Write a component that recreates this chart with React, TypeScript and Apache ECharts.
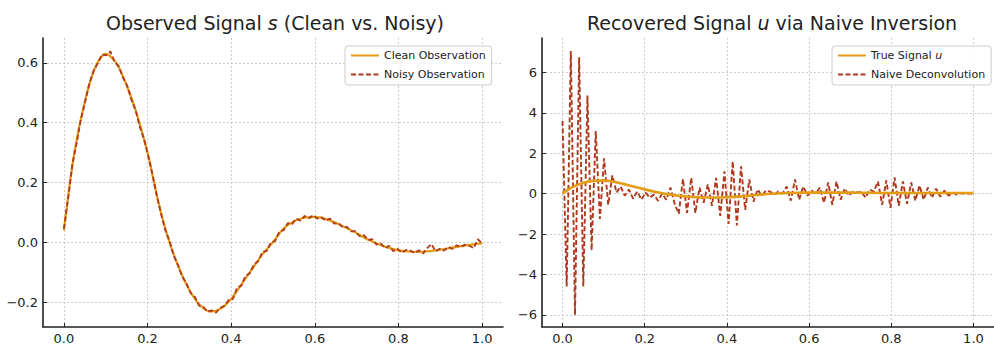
import React, { useEffect, useRef } from 'react';
import * as echarts from 'echarts';

// ---- Data ----
const xTicks = [0, 0.2, 0.4, 0.6, 0.8, 1.0];
const leftYTicks = [-0.2, 0, 0.2, 0.4, 0.6];
const rightYTicks = [-6, -4, -2, 0, 2, 4, 6];

// Clean observation s(t), sampled every 0.025
const cleanT = [
  0, 0.025, 0.05, 0.075, 0.1, 0.125, 0.15, 0.175, 0.2, 0.225, 0.25, 0.275, 0.3, 0.325, 0.35, 0.375, 0.4,
  0.425, 0.45, 0.475, 0.5, 0.525, 0.55, 0.575, 0.6, 0.625, 0.65, 0.675, 0.7, 0.725, 0.75, 0.775, 0.8,
  0.825, 0.85, 0.875, 0.9, 0.925, 0.95, 0.975, 1.0,
];
const cleanS = [
  0.04, 0.3, 0.47, 0.585, 0.63, 0.6, 0.525, 0.425, 0.3, 0.14, 0.01, -0.085, -0.16, -0.21, -0.232, -0.222,
  -0.19, -0.14, -0.09, -0.04, 0.0, 0.045, 0.07, 0.082, 0.085, 0.078, 0.065, 0.048, 0.03, 0.01, -0.005,
  -0.018, -0.027, -0.031, -0.032, -0.03, -0.025, -0.019, -0.013, -0.008, -0.004,
];

// Noisy observation, 100 samples on [0, 1]
const noisyS = [
  0.045, 0.148, 0.26, 0.33, 0.41, 0.468, 0.53, 0.572, 0.598, 0.628,
  0.625, 0.638, 0.603, 0.588, 0.55, 0.523, 0.476, 0.44, 0.385, 0.343,
  0.287, 0.224, 0.155, 0.094, 0.04, 0.005, -0.045, -0.077, -0.115, -0.137,
  -0.17, -0.183, -0.212, -0.216, -0.232, -0.228, -0.236, -0.219, -0.213, -0.193,
  -0.19, -0.152, -0.145, -0.112, -0.104, -0.074, -0.064, -0.032, -0.03, -0.001,
  0.004, 0.035, 0.04, 0.064, 0.06, 0.079, 0.072, 0.088, 0.08, 0.09,
  0.079, 0.084, 0.072, 0.079, 0.062, 0.064, 0.05, 0.051, 0.036, 0.037,
  0.02, 0.024, 0.008, 0.01, -0.008, -0.004, -0.02, -0.012, -0.03, -0.022,
  -0.035, -0.026, -0.028, -0.036, -0.027, -0.038, -0.02, -0.006, -0.03, -0.022,
  -0.028, -0.016, -0.022, -0.01, -0.016, -0.008, -0.012, -0.02, 0.01, -0.004,
];

// True signal u(t)
const trueT = [
  0, 0.025, 0.05, 0.075, 0.1, 0.125, 0.15, 0.175, 0.2, 0.225, 0.25, 0.3, 0.35, 0.4, 0.45, 0.5, 0.55,
  0.6, 0.65, 0.7, 0.75, 0.8, 0.85, 0.9, 0.95, 1.0,
];
const trueU = [
  0.0, 0.33, 0.53, 0.63, 0.65, 0.59, 0.47, 0.34, 0.21, 0.09, -0.01, -0.14, -0.19, -0.18, -0.11, -0.02,
  0.03, 0.05, 0.05, 0.05, 0.04, 0.03, 0.03, 0.03, 0.03, 0.03,
];

// Naive deconvolution, 100 samples on [0, 1]
const naiveU = [
  3.6, -4.6, 7.05, -6.0, 6.75, -4.6, 4.85, -2.8, 3.1, -1.25,
  1.75, -0.55, 0.9, 0.05, 0.35, -0.1, 0.2, -0.25, 0.1, -0.3,
  0.05, -0.2, -0.05, -0.35, 0.0, -0.3, 0.3, -0.5, -1.0, 0.73,
  -0.95, 0.78, -0.95, 0.3, -0.45, 0.45, -0.6, 0.78, -1.1, 1.1,
  -1.5, 1.6, -1.58, 1.35, -0.8, 0.7, -0.4, 0.2, -0.1, 0.15,
  0.1, -0.05, 0.1, 0.0, 0.35, -0.35, 0.7, -0.3, 0.35, -0.1,
  0.15, 0.0, 0.3, -0.45, 0.55, -0.55, 0.6, -0.3, 0.25, -0.1,
  0.1, 0.05, 0.1, -0.2, 0.2, 0.1, 0.6, -0.55, 0.65, -0.7,
  0.8, -0.6, 0.6, -0.5, 0.55, -0.35, 0.4, -0.3, 0.3, -0.2,
  0.25, -0.15, 0.15, -0.1, 0.05, -0.05, 0.02, 0.0, 0.0, 0.0,
];

const sampleT = naiveU.map((_, i) => i / (naiveU.length - 1));

const GOLD = '#E39C14';
const RED = '#B0381C';
const FONT = 'DejaVu Sans';
const MINUS = '\u2212';

function fmt(v: number, d: number) {
  const s = Math.abs(v).toFixed(d);
  return v < 0 ? MINUS + s : s;
}

function xAxisCfg(gridIndex: number) {
  return {
    type: 'value',
    gridIndex,
    min: -0.05,
    max: 1.05,
    axisLine: { show: true, onZero: false, lineStyle: { color: '#222', width: 1.6 } },
    axisTick: { show: true, inside: true, length: 4, customValues: xTicks, lineStyle: { color: '#222', width: 1 } },
    axisLabel: {
      customValues: xTicks,
      formatter: (v: number) => fmt(v, 1),
      fontSize: 13,
      fontFamily: FONT,
      color: '#222',
      margin: 5,
    },
    splitLine: { show: true, lineStyle: { color: '#c0c0c0', type: [2, 2], width: 0.8 } },
  };
}

function yAxisCfg(gridIndex: number, min: number, max: number, ticks: number[], dec: number) {
  return {
    type: 'value',
    gridIndex,
    min,
    max,
    axisLine: { show: true, onZero: false, lineStyle: { color: '#222', width: 1.6 } },
    axisTick: { show: true, inside: true, length: 4, customValues: ticks, lineStyle: { color: '#222', width: 1 } },
    axisLabel: {
      customValues: ticks,
      formatter: (v: number) => fmt(v, dec),
      fontSize: 13,
      fontFamily: FONT,
      color: '#222',
      margin: 5,
    },
    splitLine: { show: true, lineStyle: { color: '#c0c0c0', type: [2, 2], width: 0.8 } },
  };
}

const legendBase = {
  orient: 'vertical',
  itemWidth: 28,
  itemHeight: 12,
  itemGap: 8,
  padding: [4, 6, 5, 5],
  borderColor: '#cccccc',
  borderWidth: 1,
  borderRadius: 3,
  backgroundColor: 'rgba(255,255,255,0.85)',
  itemStyle: { opacity: 0, borderWidth: 0 },
  textStyle: {
    fontSize: 11,
    fontFamily: FONT,
    color: '#222',
    rich: { i: { fontSize: 11, fontFamily: FONT, fontStyle: 'italic', color: '#222' } },
  },
};

export default function App() {
  const ref = useRef<HTMLDivElement>(null);

  useEffect(() => {
    if (!ref.current) return;
    const chart = echarts.init(ref.current, null, { renderer: 'svg' });
    const titleStyle = {
      fontFamily: FONT,
      fontSize: 19,
      fontWeight: 'normal',
      color: '#222',
      rich: { i: { fontFamily: FONT, fontSize: 19, fontStyle: 'italic', color: '#222' } },
    };
    chart.setOption({
      animation: false,
      backgroundColor: '#ffffff',
      title: [
        { text: 'Observed Signal {i|s} (Clean vs. Noisy)', left: 270, top: 8, textAlign: 'center', textStyle: titleStyle },
        { text: 'Recovered Signal {i|u} via Naive Inversion', left: 767, top: 8, textAlign: 'center', textStyle: titleStyle },
      ],
      legend: [
        { ...legendBase, data: ['Clean Observation', 'Noisy Observation'], left: 345, top: 46 },
        {
          ...legendBase,
          data: ['True Signal u', 'Naive Deconvolution'],
          left: 832,
          top: 46,
          formatter: (name: string) => (name === 'True Signal u' ? 'True Signal {i|u}' : name),
        },
      ],
      grid: [
        { left: 43, top: 38, width: 460, height: 289 },
        { left: 542, top: 38, width: 461, height: 289 },
      ],
      xAxis: [xAxisCfg(0), xAxisCfg(1)],
      yAxis: [
        yAxisCfg(0, -0.2835, 0.683, leftYTicks, 1),
        yAxisCfg(1, -6.6, 7.7, rightYTicks, 0),
      ],
      series: [
        {
          name: 'Clean Observation',
          type: 'line',
          xAxisIndex: 0,
          yAxisIndex: 0,
          data: cleanT.map((t, i) => [t, cleanS[i]]),
          smooth: 0.3,
          symbol: 'none',
          lineStyle: { color: GOLD, width: 2.2 },
          itemStyle: { color: GOLD },
          z: 2,
        },
        {
          name: 'Noisy Observation',
          type: 'line',
          xAxisIndex: 0,
          yAxisIndex: 0,
          data: sampleT.map((t, i) => [t, noisyS[i]]),
          symbol: 'none',
          lineStyle: { color: RED, width: 1.8, type: [5, 2.5] },
          itemStyle: { color: RED },
          z: 3,
        },
        {
          name: 'Naive Deconvolution',
          type: 'line',
          xAxisIndex: 1,
          yAxisIndex: 1,
          data: sampleT.map((t, i) => [t, naiveU[i]]),
          symbol: 'none',
          lineStyle: { color: RED, width: 1.9, type: [5, 2.5] },
          itemStyle: { color: RED },
          z: 2,
        },
        {
          name: 'True Signal u',
          type: 'line',
          xAxisIndex: 1,
          yAxisIndex: 1,
          data: trueT.map((t, i) => [t, trueU[i]]),
          smooth: 0.3,
          symbol: 'none',
          lineStyle: { color: GOLD, width: 2.6 },
          itemStyle: { color: GOLD },
          z: 3,
        },
      ],
    });
    return () => chart.dispose();
  }, []);

  return (
    <div
      ref={ref}
      style={{ position: 'fixed', left: 0, top: 0, width: 994, height: 347, background: '#fff' }}
    />
  );
}
